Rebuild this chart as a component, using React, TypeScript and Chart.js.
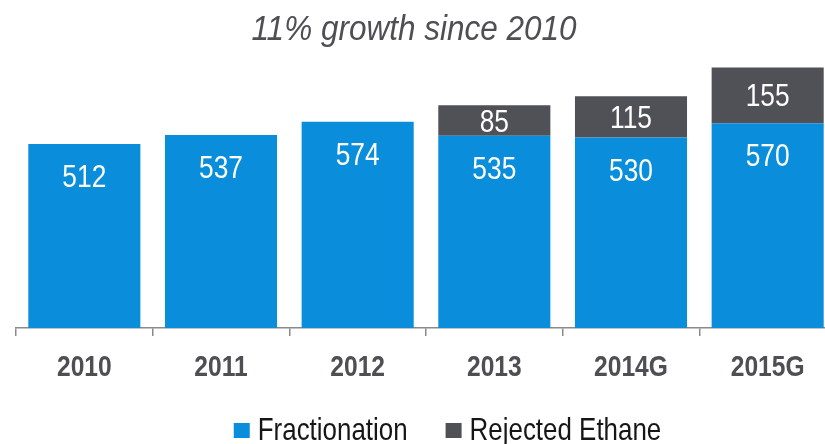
import React, { useEffect, useRef } from "react";
import { Chart, registerables } from "chart.js";

Chart.register(...registerables);

const categories = ["2010", "2011", "2012", "2013", "2014G", "2015G"];
const fractionation = [512, 537, 574, 535, 530, 570];
const rejectedEthane = [null, null, null, 85, 115, 155];
const seriesNames = ["Fractionation", "Rejected Ethane"];
const titleText = "11% growth since 2010";

const BLUE = "#0A8EDB";
const GRAY = "#505156";
const TEXT_GRAY = "#4D4F53";
const SANS = "'Liberation Sans', Arial, sans-serif";

function drawNarrow(ctx: any, text: string, x: number, y: number, font: string, sx: number, align: "left" | "center") {
  ctx.save();
  ctx.font = font;
  ctx.textBaseline = "alphabetic";
  ctx.textAlign = align;
  ctx.translate(x, y);
  ctx.scale(sx, 1);
  ctx.fillText(text, 0, 0);
  ctx.restore();
}

const textPlugin = {
  id: "narrowText",
  afterDraw(chart: any) {
    const ctx = chart.ctx;
    // title
    ctx.fillStyle = TEXT_GRAY;
    drawNarrow(ctx, titleText, 414, 40, `italic 35px ${SANS}`, 0.9, "center");

    // x tick labels
    const xs = chart.scales.x;
    const bottom = chart.chartArea.bottom;
    categories.forEach((c, i) => {
      ctx.fillStyle = TEXT_GRAY;
      drawNarrow(ctx, c, xs.getPixelForTick(i), bottom + 48, `bold 30px ${SANS}`, 0.82, "center");
    });

    // bar value labels
    chart.data.datasets.forEach((ds: any, di: number) => {
      const meta = chart.getDatasetMeta(di);
      meta.data.forEach((el: any, i: number) => {
        const v = ds.data[i];
        if (v == null) return;
        const { x, y, base } = el.getProps(["x", "y", "base"], true);
        const by = di === 0 ? y + 43 : (y + base) / 2 + 11;
        ctx.fillStyle = "#ffffff";
        drawNarrow(ctx, String(v), x, by, `31px ${SANS}`, 0.85, "center");
      });
    });

    // legend
    const font = `32px ${SANS}`;
    const sx = 0.81;
    const box = 16;
    const gapBox = 8;
    const gapItem = 38;
    ctx.save();
    ctx.font = font;
    const items = chart.data.datasets.map((d: any) => ({ label: d.label, color: d.backgroundColor, w: ctx.measureText(d.label).width * sx }));
    ctx.restore();
    const total = items.reduce((a: number, it: any) => a + box + gapBox + it.w, 0) + gapItem * (items.length - 1);
    let lx = 447.5 - total / 2;
    const baseline = 440;
    items.forEach((it: any) => {
      ctx.fillStyle = it.color;
      ctx.fillRect(lx, 423, box, 15);
      ctx.fillStyle = "#161616";
      drawNarrow(ctx, it.label, lx + box + gapBox, baseline, font, sx, "left");
      lx += box + gapBox + it.w + gapItem;
    });
  },
};

export default function App() {
  const ref = useRef<HTMLCanvasElement>(null);
  useEffect(() => {
    if (!ref.current) return;
    const chart = new Chart(ref.current, {
      type: "bar",
      data: {
        labels: categories,
        datasets: [
          { label: seriesNames[0], data: fractionation, backgroundColor: BLUE, barPercentage: 0.82, categoryPercentage: 1 },
          { label: seriesNames[1], data: rejectedEthane as any, backgroundColor: GRAY, barPercentage: 0.82, categoryPercentage: 1 },
        ],
      },
      options: {
        animation: false,
        responsive: false,
        devicePixelRatio: 1,
        layout: { padding: { left: 16, right: 4, top: 55, bottom: 44 } },
        plugins: {
          legend: { display: false },
          tooltip: { enabled: false },
          title: { display: false },
        },
        scales: {
          x: {
            stacked: true,
            offset: true,
            afterFit: (scale: any) => {
              scale.height = 72;
            },
            grid: { display: true, drawOnChartArea: false, offset: true, tickLength: 8, color: "#8a8a8a", lineWidth: 1.5 },
            border: { display: true, color: "#8a8a8a", width: 1.5 },
            ticks: { display: false },
          },
          y: { stacked: true, display: false, min: 0, max: 760 },
        },
      },
      plugins: [textPlugin],
    });
    return () => chart.destroy();
  }, []);
  return (
    <div style={{ position: "fixed", left: 0, top: 0, width: 825, height: 444, overflow: "hidden", background: "#fff" }}>
      <canvas ref={ref} width={840} height={444} style={{ display: "block" }} />
    </div>
  );
}
